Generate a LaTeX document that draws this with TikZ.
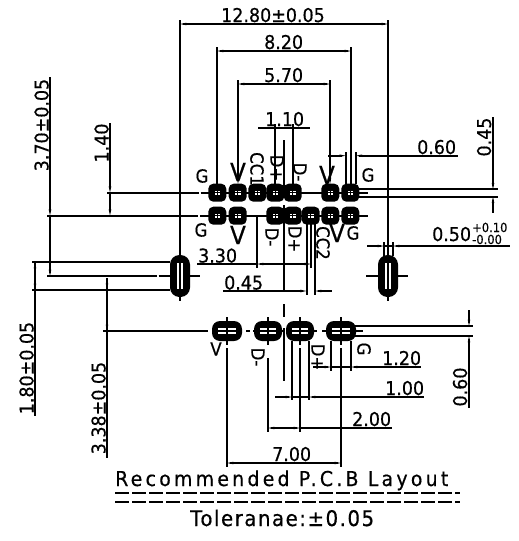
\documentclass[tikz,border=0pt]{standalone}
\usepackage{fontspec}
\setmainfont{DejaVu Sans}[FakeBold=0.5,FakeStretch=0.92]
\usetikzlibrary{arrows.meta}
\tikzset{
  x=1pt,y=-1pt,
  dim/.style={line width=1.7pt,black},
  ar/.style={dim,{Stealth[length=6pt,width=2.4pt]}-{Stealth[length=6pt,width=2.4pt]}},
  are/.style={dim,-{Stealth[length=6pt,width=2.4pt]}},
  ars/.style={dim,{Stealth[length=6pt,width=2.4pt]}-},
  lab/.style={font=\fontsize{19}{19}\selectfont,inner sep=0pt,anchor=base west},
  labr/.style={font=\fontsize{19}{19}\selectfont,inner sep=0pt,anchor=base,rotate=90},
  pin/.style={font=\fontsize{18}{18}\selectfont,inner sep=0pt,anchor=center},
  pinr/.style={pin,rotate=-90},
  bigv/.style={pin,font=\fontsize{25}{25}\selectfont},
  sm/.style={font=\fontsize{12.5}{12.5}\selectfont,inner sep=0pt,anchor=base west},
  tt/.style={inner sep=0pt,anchor=base west}
}
\newcommand{\smallpad}[2]{%
  \fill[black,rounded corners=5pt] (#1-9,#2-9) rectangle (#1+9,#2+9);
  \fill[white] (#1-2.8,#2-2.2) rectangle (#1+2.8,#2+2.2);
  \draw[black,line width=1.4pt] (#1-3,#2) -- (#1+3,#2) (#1,#2-2.4) -- (#1,#2+2.4);
}
\newcommand{\widepad}[3]{% x, half-width, y
  \fill[black,rounded corners=8pt] (#1-#2,#3-10) rectangle (#1+#2,#3+10);
  \fill[white] (#1-#2+6,#3-3.4) rectangle (#1+#2-6,#3+3.4);
  \draw[black,line width=1.6pt] (#1-#2+6,#3) -- (#1+#2-6,#3);
  \draw[black,line width=1.6pt] (#1,#3-4) -- (#1,#3+4);
}
\newcommand{\tallpad}[2]{%
  \fill[black,rounded corners=9.5pt] (#1-10,#2-21) rectangle (#1+10,#2+21);
  \fill[white] (#1-3.4,#2-13) rectangle (#1+3.4,#2+13);
  \fill[black] (#1-1.4,#2-13) rectangle (#1+1.4,#2+13);
}
\begin{document}
\begin{tikzpicture}
\useasboundingbox (0,0) rectangle (519,541);
% top dimensions
\draw[ar] (180,24) -- (388,24);
\draw[ar] (217,51) -- (351,51);
\draw[ar] (238,84) -- (330,84);
\draw[dim] (258,128) -- (310,128);
\draw[dim] (180,20) -- (180,301);
\draw[dim] (388,20) -- (388,301);
\draw[dim] (217,47) -- (217,192);
\draw[are] (238,80) -- (238,184);
\draw[dim] (351,47) -- (351,192);
\draw[are] (330,80) -- (330,184);
\draw[dim] (275,124) -- (275,192);
\draw[dim] (293,124) -- (293,192);
\draw[dim] (284,140) -- (284,193);
\draw[dim] (284,205) -- (284,292);
\draw[dim] (284,304) -- (284,317);
\draw[dim] (284,328) -- (284,381);
% 0.60 top
\draw[dim] (345.7,152) -- (345.7,184);
\draw[dim] (356,152) -- (356,184);
\draw[are] (328,155.7) -- (345.7,155.7);
\draw[ars] (356,155.7) -- (457.7,155.7);
% pad row centre lines
\draw[dim] (107,192.7) -- (198.5,192.7);
\draw[dim] (200.5,192.7) -- (368,192.7);
\draw[dim] (47,215.7) -- (198,215.7);
\draw[dim] (200,215.7) -- (368,215.7);
% right 0.45
\draw[dim] (355,189.3) -- (497.7,189.3);
\draw[dim] (355,196.7) -- (497.7,196.7);
\draw[are] (493,117) -- (493,189.3);
\draw[ars] (493,196.7) -- (493,213);
% left dims
\draw[are] (110,123) -- (110,192.7);
\draw[are] (110,192.7) -- (110,215.7);
\draw[are] (50,77) -- (50,215.7);
\draw[are] (50,215.7) -- (50,276);
\draw[dim] (47,276) -- (157,276);
\draw[dim] (158.5,276) -- (200,276);
\draw[dim] (32,262) -- (170,262);
\draw[dim] (32,290) -- (170,290);
\draw[ars] (35,262) -- (35,416);
\draw[are] (35,262) -- (35,290);
\draw[ars] (107,278) -- (107,458);
\draw[are] (107,278) -- (107,331);
\draw[dim] (103,331) -- (205,331);
% mid dims
\draw[dim] (257,215) -- (257,268);
\draw[dim] (306.7,215) -- (306.7,295);
\draw[dim] (311,215) -- (311,268);
\draw[dim] (315,215) -- (315,295);
\draw[dim] (197,264) -- (257,264);
\draw[ar] (257,264) -- (311,264);
\draw[are] (223,291) -- (306.7,291);
\draw[ars] (315,291) -- (332,291);
% right oval
\draw[dim] (384,242) -- (384,256);
\draw[dim] (393,242) -- (393,256);
\draw[are] (367,246) -- (384,246);
\draw[dim] (384,246) -- (393,246);
\draw[ars] (393,246) -- (510,246);
\draw[dim] (366,276) -- (408,276);
% lower pads lines
\draw[dim] (205,331) -- (208,331);
\draw[dim] (246,331) -- (250,331);
\draw[dim] (253,331) -- (283,331);
\draw[dim] (286,331) -- (317,331);
\draw[dim] (322,331) -- (363,331);
\draw[dim] (227,317) -- (227,345);
\draw[dim] (227,348) -- (227,467);
\draw[dim] (268,317) -- (268,345);
\draw[dim] (268,358) -- (268,432);
\draw[dim] (300,317) -- (300,345);
\draw[dim] (300,348) -- (300,432);
\draw[dim] (341,317) -- (341,345);
\draw[dim] (341,348) -- (341,467);
\draw[ar] (227,463) -- (341,463);
\draw[ar] (268,428) -- (300,428);
\draw[dim] (300,428) -- (392,428);
\draw[are] (275,397) -- (292,397);
\draw[dim] (292,397) -- (309,397);
\draw[ars] (309,397) -- (424,397);
\draw[dim] (292,341) -- (292,400);
\draw[dim] (309,341) -- (309,400);
\draw[are] (313,367) -- (331,367);
\draw[dim] (331,367) -- (351,367);
\draw[ars] (351,367) -- (421,367);
\draw[dim] (331,341) -- (331,371);
\draw[dim] (351,341) -- (351,371);
% lower right 0.60
\draw[dim] (350,326) -- (473,326);
\draw[dim] (350,336) -- (473,336);
\draw[are] (469,310) -- (469,326);
\draw[ars] (469,336) -- (469,408);
% pads
\foreach \px in {217.3,237.7,257.3,275.3,292.7,330.3,350.3} {\smallpad{\px}{192.7}}
\foreach \px in {217.3,237.7,275.3,292.7,310.7,330.3,350.3} {\smallpad{\px}{215.7}}
\tallpad{180}{276}
\tallpad{388}{276}
\widepad{227}{15}{331}
\widepad{268}{14}{331}
\widepad{300}{14}{331}
\widepad{341}{15}{331}
% dimension texts
\node[lab] (t1280) at (221,22) {12.80±0.05};
\node[lab] (t820) at (264,49) {8.20};
\node[lab] (t570) at (264,82) {5.70};
\node[lab] (t110) at (265,126) {1.10};
\node[lab] (t060a) at (417,154) {0.60};
\node[lab] (t330) at (198,262.5) {3.30};
\node[lab] (t045) at (224,289.5) {0.45};
\node[lab] (t120) at (382,365) {1.20};
\node[lab] (t100) at (385,395) {1.00};
\node[lab] (t200) at (352,426) {2.00};
\node[lab] (t700) at (272,461) {7.00};
\node[lab] (t050) at (432,241) {0.50};
\node[sm] (tp) at (472,232) {+0.10};
\node[sm] (tm) at (472,244) {-0.00};
\node[labr] (t370) at (48.5,125) {3.70±0.05};
\node[labr] (t140) at (108.5,143) {1.40};
\node[labr] (t045b) at (491,137) {0.45};
\node[labr] (t180) at (33.5,368) {1.80±0.05};
\node[labr] (t338) at (105.5,408) {3.38±0.05};
\node[labr] (t060b) at (467,387) {0.60};
% pin labels
\node[pin] (g1) at (202,176) {G};
\node[bigv] (v1) at (238,172) {V};
\node[pinr] (cc1) at (257,169) {CC1};
\node[pinr] (dp1) at (277,168) {D+};
\node[pinr] (dm1) at (300,172) {D-};
\node[bigv] (v2) at (327,175) {V};
\node[pin] (g2) at (368,175) {G};
\node[pin] (g3) at (201,230) {G};
\node[bigv] (v3) at (238,235) {V};
\node[pinr] (dm2) at (272,237) {D-};
\node[pinr] (dp2) at (295,239) {D+};
\node[pinr] (cc2) at (323,243) {CC2};
\node[bigv] (v4) at (337,233) {V};
\node[pin] (g4) at (353,233) {G};
\node[pin] (v5) at (216,349) {V};
\node[pinr] (dm3) at (258,357) {D-};
\node[pinr] (dp3) at (318,357) {D+};
\node[pinr] (g5) at (364,349) {G};
% title
\node[tt,font=\fontsize{20.5}{20.5}\selectfont\addfontfeature{LetterSpace=16}] (title) at (115,486) {Recommended P.C.B Layout};
\draw[dim,dash pattern=on 14pt off 3pt] (115,493) -- (460,493);
\draw[dim,dash pattern=on 14pt off 3pt] (115,502) -- (460,502);
\node[tt,font=\fontsize{21.5}{21.5}\selectfont\addfontfeature{LetterSpace=7}] (tol) at (190,526) {Toleranae:±0.05};
\end{tikzpicture}
\end{document}
